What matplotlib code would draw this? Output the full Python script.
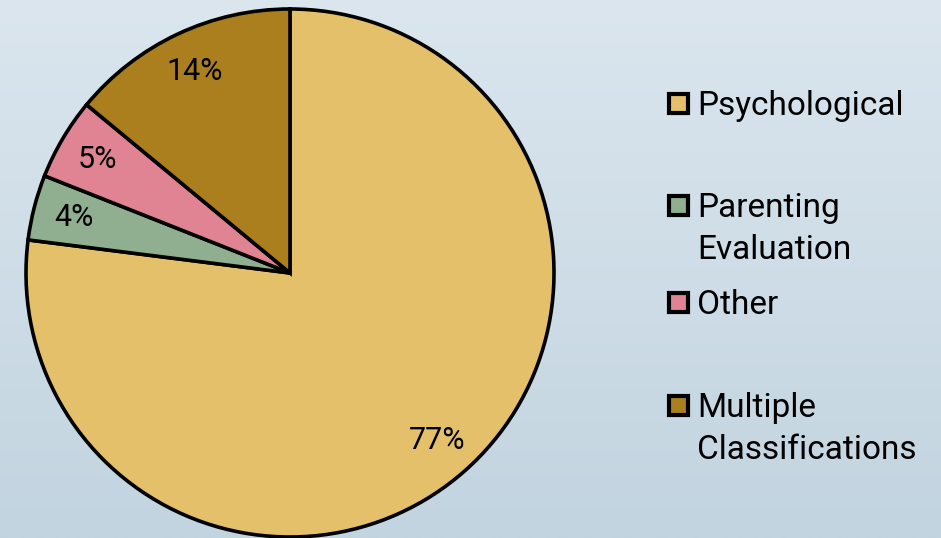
import numpy as np
import matplotlib
matplotlib.use("Agg")
import matplotlib.pyplot as plt
from matplotlib.patches import Rectangle

categories = ["Psychological", "Parenting\nEvaluation", "Other", "Multiple\nClassifications"]
shares = [77, 4, 5, 14]
colors = ["#e5c06a", "#8faf90", "#e08393", "#ab7f1e"]

plt.rcParams["font.family"] = ["Roboto", "DejaVu Sans"]

W, H = 941, 538
fig = plt.figure(figsize=(W / 100, H / 100), dpi=100)

# soft vertical gradient background
bg = fig.add_axes([0, 0, 1, 1], zorder=0)
grad = np.linspace(0, 1, 256).reshape(-1, 1)
top = np.array([0xdb, 0xe6, 0xee]) / 255
bot = np.array([0xc2, 0xd4, 0xe0]) / 255
img = top + (bot - top) * grad[:, :, None]
bg.imshow(img, aspect="auto", extent=[0, 1, 0, 1], origin="upper")
bg.axis("off")

ax = fig.add_axes([0, 0, 1, 1], zorder=1)
ax.set_aspect("equal")
ax.axis("off")

wedges, texts, autotexts = ax.pie(
    shares, colors=colors, startangle=90, counterclock=False,
    center=(290, 265), radius=264,
    autopct="%d%%", pctdistance=0.845,
    wedgeprops=dict(edgecolor="black", linewidth=2.6),
    textprops=dict(fontsize=22, color="black"),
)
ax.set_xlim(0, W)
ax.set_ylim(0, H)

# legend drawn on the right: one swatch per entry, text lines on baselines
legend_base = [423, 321, 224, 121]
line_step = 42
for label, col, yb in zip(categories, colors, legend_base):
    ax.add_patch(Rectangle((669, yb + 2), 19, 19, facecolor=col,
                           edgecolor="black", linewidth=3.0))
    for i, line in enumerate(label.split("\n")):
        ax.text(697, yb - i * line_step, line, fontsize=24,
                ha="left", va="baseline")

fig.savefig("out.png", dpi=100)
